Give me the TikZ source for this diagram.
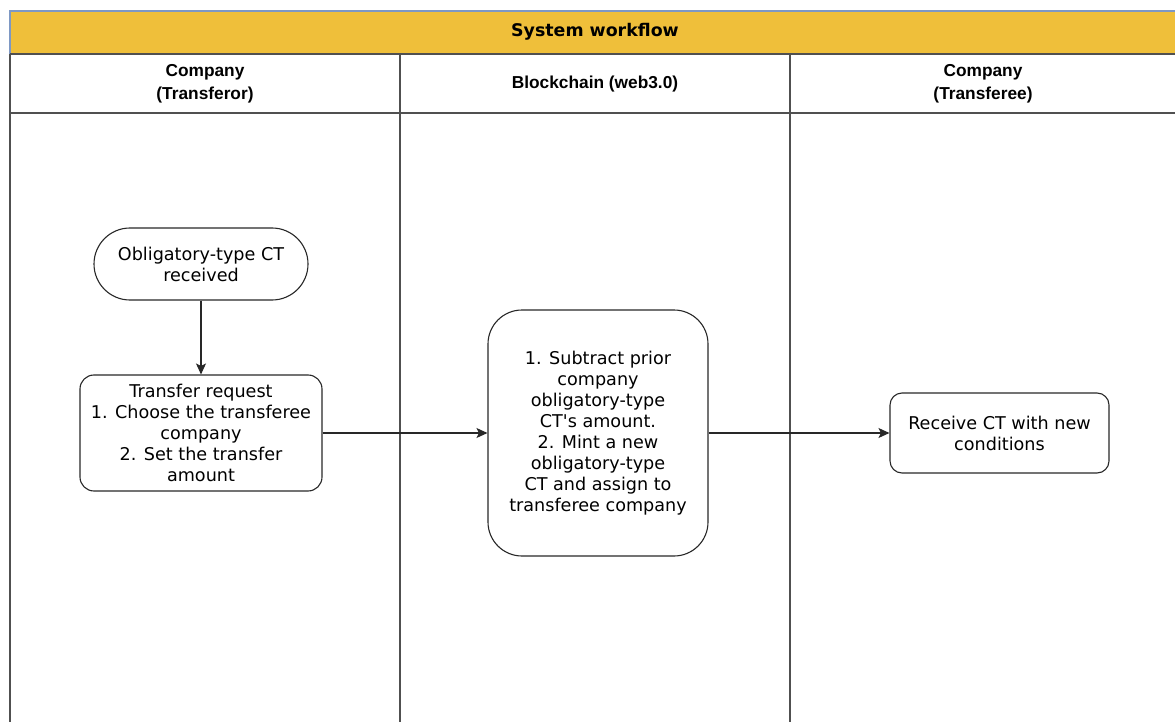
\documentclass[tikz,border=0pt]{standalone}
\usepackage{fontspec}
\setmainfont{DejaVu Sans}
\newfontfamily\hdrfont{Liberation Sans}
\usetikzlibrary{arrows.meta}
\definecolor{hdrYellow}{RGB}{239,191,58}
\definecolor{hdrBlue}{RGB}{126,152,196}
\definecolor{laneGray}{RGB}{80,80,80}
\definecolor{edgeGray}{RGB}{40,40,40}
\newcommand{\nodefont}{\fontsize{17.6}{21}\selectfont}
\newcommand{\lanefont}{\hdrfont\bfseries\fontsize{17.3}{22.5}\selectfont}
\newcommand{\titlefont}{\bfseries\fontsize{17.4}{21}\selectfont}
\begin{document}
\begin{tikzpicture}[x=1pt,y=-1pt,
  laneline/.style={draw=laneGray, line width=1.3pt},
  procbox/.style={draw=edgeGray, line width=1.1pt, align=center, font=\nodefont, inner sep=0pt, fill=white},
  lanelabel/.style={align=center, font=\lanefont, inner sep=0pt},
  conn/.style={draw=edgeGray, line width=1.2pt, -{Stealth[length=11pt,width=10pt,inset=2.5pt]}}
]
\useasboundingbox (0,0) rectangle (1175,722);
\clip (0,0) rectangle (1175,722);
\fill[white] (0,0) rectangle (1175,722);

% header band
\path[fill=hdrYellow, draw=hdrBlue, line width=1.2pt] (10,11) rectangle (1190,54);
\node[font=\titlefont, inner sep=0pt] (title) at (595,31.5) {System workflow};

% lane structure
\draw[laneline] (10,54) -- (1190,54);
\draw[laneline] (10,113) -- (1190,113);
\draw[laneline] (10,54) -- (10,730);
\draw[laneline] (400,54) -- (400,730);
\draw[laneline] (790,54) -- (790,730);

\node[lanelabel] (lane1) at (205,84) {Company\\(Transferor)};
\node[lanelabel] (lane2) at (595,84) {Blockchain (web3.0)};
\node[lanelabel] (lane3) at (983,84) {Company\\(Transferee)};

% nodes
\node[procbox, rounded corners=36pt, minimum width=214pt, minimum height=72pt] (start) at (201,264)
  {Obligatory-type CT\\received};
\node[procbox, rounded corners=14pt, minimum width=242pt, minimum height=116pt] (req) at (201,433)
  {Transfer request\\1. Choose the transferee\\company\\2. Set the transfer\\amount};
\node[procbox, rounded corners=34pt, minimum width=220pt, minimum height=246pt] (chain) at (598,433)
  {1. Subtract prior\\company\\obligatory-type\\CT\textquotesingle s amount.\\2. Mint a new\\obligatory-type\\CT and assign to\\transferee company};
\node[procbox, rounded corners=12pt, minimum width=219pt, minimum height=80pt] (recv) at (999.5,433)
  {Receive CT with new\\conditions};

% connectors
\draw[conn] (start) -- (req);
\draw[conn] (req) -- (chain);
\draw[conn] (chain) -- (recv);
\end{tikzpicture}
\end{document}
